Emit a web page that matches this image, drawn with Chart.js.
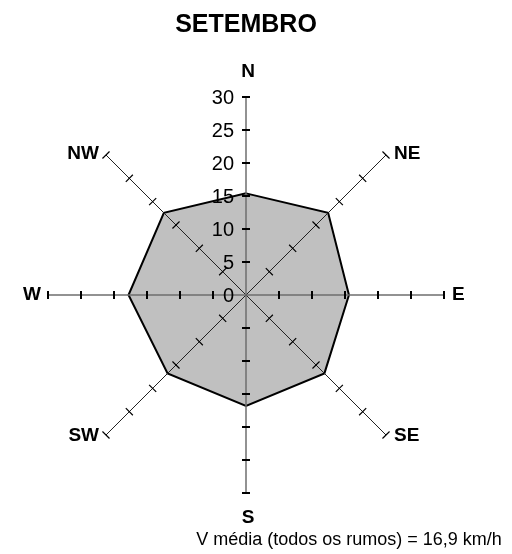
<!DOCTYPE html>
<html>
<head>
<meta charset="utf-8">
<script src="https://cdn.jsdelivr.net/npm/chart.js@4"></script>
<style>
  html, body { margin: 0; padding: 0; background: #fff; }
</style>
</head>
<body>
<canvas id="rose" width="512" height="554"></canvas>
<script>
// wind directions and mean speed per direction (km/h)
const directions = ['N', 'NE', 'E', 'SE', 'S', 'SW', 'W', 'NW'];
const speeds = [15.4, 17.6, 15.6, 16.8, 16.8, 16.8, 17.8, 17.6];
const axisMax = 30;
const axisStep = 5;
const chartTitle = 'SETEMBRO';
const footNote = 'V média (todos os rumos) = 16,9 km/h';

Chart.defaults.font.family = "'Liberation Sans', Arial, sans-serif";
Chart.defaults.color = '#000';

// tick crosses, value labels on the N axis, direction labels and the foot note
const compassDecor = {
  id: 'compassDecor',
  afterDraw(chart) {
    const s = chart.scales.r;
    const ctx = chart.ctx;
    ctx.save();

    directions.forEach((dir, i) => {
      const a = s.getIndexAngle(i) - Math.PI / 2;
      const nx = -Math.sin(a), ny = Math.cos(a);
      const cardinal = i % 2 === 0;
      const half = cardinal ? 4 : 5;
      ctx.strokeStyle = '#000';
      ctx.lineWidth = cardinal ? 2 : 1.2;
      s.ticks.forEach(t => {
        if (t.value === 0) return;
        const p = s.getPointPositionForValue(i, t.value);
        ctx.beginPath();
        ctx.moveTo(p.x - nx * half, p.y - ny * half);
        ctx.lineTo(p.x + nx * half, p.y + ny * half);
        ctx.stroke();
      });

      // direction label
      const end = s.getPointPositionForValue(i, axisMax);
      const cx = Math.cos(a), cy = Math.sin(a);
      let x = end.x, y = end.y;
      ctx.font = "bold 19px 'Liberation Sans', Arial, sans-serif";
      ctx.fillStyle = '#000';
      ctx.textBaseline = 'middle';
      if (Math.abs(cx) < 0.1) {
        ctx.textAlign = 'center';
        x += 2;
        y += cy * 25;
      } else {
        ctx.textAlign = cx > 0 ? 'left' : 'right';
        x += cx > 0 ? 8 : -7;
        y += cardinal ? 0 : cy * 1.5;
      }
      ctx.fillText(dir, x, y);
    });

    // value labels along the N axis
    ctx.font = "20px 'Liberation Sans', Arial, sans-serif";
    ctx.textAlign = 'right';
    ctx.textBaseline = 'middle';
    s.ticks.forEach(t => {
      const p = s.getPointPositionForValue(0, t.value);
      ctx.fillText(String(t.value), p.x - 12, p.y + 1);
    });

    ctx.font = "18px 'Liberation Sans', Arial, sans-serif";
    ctx.textAlign = 'center';
    ctx.fillText(footNote, 349, 540);
    ctx.restore();
  }
};

new Chart(document.getElementById('rose'), {
  type: 'radar',
  data: {
    labels: directions,
    datasets: [{
      label: chartTitle,
      data: speeds,
      backgroundColor: '#c0c0c0',
      borderColor: '#000',
      borderWidth: 2,
      pointRadius: 0,
      fill: true,
      tension: 0,
    }],
  },
  options: {
    responsive: false,
    animation: false,
    layout: { padding: { left: 48, right: 68, top: 0, bottom: 61 } },
    scales: {
      r: {
        min: 0,
        max: axisMax,
        ticks: { display: false, stepSize: axisStep },
        grid: { display: false, z: 1 },
        angleLines: {
          display: true,
          color: ctx => (ctx.index % 2 === 0 ? '#6e6e6e' : '#222'),
          lineWidth: ctx => (ctx.index % 2 === 0 ? 1.5 : 1),
        },
        pointLabels: { display: false },
      },
    },
    plugins: {
      legend: { display: false },
      tooltip: { enabled: false },
      title: {
        display: true,
        text: chartTitle,
        font: { size: 25, weight: 'bold' },
        color: '#000',
        padding: { top: 10, bottom: 57 },
      },
    },
  },
  plugins: [compassDecor],
});
</script>
</body>
</html>
